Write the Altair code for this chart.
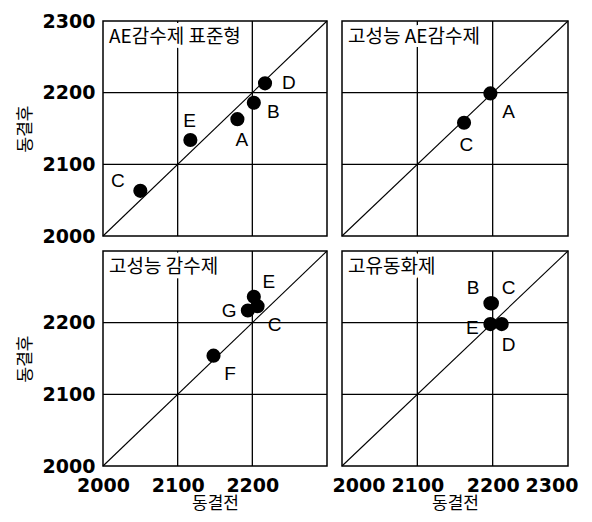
import altair as alt
import pandas as pd

# ---- data ----
panel_titles = ["AE감수제  표준형", "고성능 AE감수제", "고성능 감수제", "고유동화제"]

p1_labels = ["C", "E", "A", "B", "D"]
p1_before = [2050, 2117, 2180, 2202, 2217]
p1_after = [2063, 2134, 2163, 2186, 2213]
p1_lx = [2020, 2116, 2186, 2228, 2249]
p1_ly = [2077, 2160, 2134, 2173, 2214]

p2_labels = ["A", "C"]
p2_before = [2197, 2162]
p2_after = [2199, 2158]
p2_lx = [2221, 2165]
p2_ly = [2173, 2127]

p3_labels = ["E", "G", "C", "F"]
p3_before = [2202, 2194, 2207, 2148]
p3_after = [2236, 2217, 2223, 2154]
p3_lx = [2222, 2169, 2230, 2170]
p3_ly = [2257, 2216, 2197, 2128]

p4_labels = ["B", "C", "E", "D"]
p4_before = [2197, 2199, 2197, 2212]
p4_after = [2227, 2227, 2198, 2198]
p4_lx = [2174, 2221, 2173, 2221]
p4_ly = [2249, 2249, 2193, 2169]

grid_vals = [2100, 2200]
diag_vals = [2000, 2300]
domain = [2000, 2300]
title_pos = (2008, 2278)

x_title = "동결전"
y_title = "동결후"

KFONT = "Noto Sans CJK KR"
NFONT = "DejaVu Sans"
LFONT = "Liberation Sans"


def make_panel(title, labels, before, after, lx, ly, xvals, yvals, w=224, h=215,
               flush=False):
    pts = pd.DataFrame({"x": before, "y": after, "label": labels, "lx": lx, "ly": ly})
    grid = pd.DataFrame({"g": grid_vals})
    diag = pd.DataFrame({"x": diag_vals, "y": diag_vals})
    tdf = pd.DataFrame({"x": [title_pos[0]], "y": [title_pos[1]], "t": [title]})

    xs = alt.Scale(domain=domain, nice=False, zero=False)
    ys = alt.Scale(domain=domain, nice=False, zero=False)

    if xvals:
        xkw = dict(values=xvals, title=x_title, grid=False, ticks=False, domain=False,
                   labelFont=NFONT, labelFontWeight="bold", labelFontSize=19,
                   labelColor="black", labelPadding=10, titleFont=KFONT,
                   titleFontSize=17, titleFontWeight="normal", titleColor="black",
                   titlePadding=0, format="d", labelOverlap=False)
        if flush:
            xkw.update(labelFlush=True, labelFlushOffset=10)
        else:
            xkw.update(labelFlush=False)
        xax = alt.Axis(**xkw)
    else:
        xax = None
    if yvals:
        yax = alt.Axis(values=yvals, title=y_title, grid=False, ticks=False, domain=False,
                       labelFont=NFONT, labelFontWeight="bold", labelFontSize=19,
                       labelColor="black", labelPadding=8, titleFont=KFONT,
                       titleFontSize=17, titleFontWeight="normal", titleColor="black",
                       titlePadding=8, format="d", labelFlush=False, labelOverlap=False)
    else:
        yax = None

    def X(f):
        return alt.X(f, type="quantitative", scale=xs, axis=xax)

    def Y(f):
        return alt.Y(f, type="quantitative", scale=ys, axis=yax)

    vgrid = alt.Chart(grid).mark_rule(color="black", strokeWidth=1.3).encode(x=X("g"))
    hgrid = alt.Chart(grid).mark_rule(color="black", strokeWidth=1.3).encode(y=Y("g"))
    diag_line = alt.Chart(diag).mark_line(color="black", strokeWidth=1.1).encode(x=X("x"), y=Y("y"))
    halo = alt.Chart(tdf).mark_text(align="left", baseline="middle", font=KFONT, fontSize=19,
                                    color="white", stroke="white", strokeWidth=8,
                                    strokeJoin="round").encode(x=X("x"), y=Y("y"), text="t:N")
    ttl = alt.Chart(tdf).mark_text(align="left", baseline="middle", font=KFONT, fontSize=19,
                                   color="black").encode(x=X("x"), y=Y("y"), text="t:N")
    dots = alt.Chart(pts).mark_point(filled=True, shape="circle", size=200, color="black",
                                     opacity=1).encode(x=X("x"), y=Y("y"))
    lbls = alt.Chart(pts).mark_text(font=LFONT, fontSize=19, color="black",
                                    baseline="middle", align="center").encode(
        x=X("lx"), y=Y("ly"), text="label:N")
    return alt.layer(vgrid, hgrid, diag_line, halo, ttl, dots, lbls).properties(width=w, height=h)


p1 = make_panel(panel_titles[0], p1_labels, p1_before, p1_after, p1_lx, p1_ly,
                None, [2000, 2100, 2200, 2300], h=215)
p2 = make_panel(panel_titles[1], p2_labels, p2_before, p2_after, p2_lx, p2_ly, None, None,
                w=226, h=215)
p3 = make_panel(panel_titles[2], p3_labels, p3_before, p3_after, p3_lx, p3_ly,
                [2000, 2100, 2200], [2000, 2100, 2200])
p4 = make_panel(panel_titles[3], p4_labels, p4_before, p4_after, p4_lx, p4_ly,
                [2000, 2100, 2200, 2300], None, w=226, flush=True)

chart = alt.concat(
    p1, p2, p3, p4,
    columns=2,
    spacing={"row": 15, "column": 15},
    bounds="flush",
).properties(
    background="white",
    padding={"left": 7, "top": 3, "right": 0, "bottom": 0},
).configure_view(stroke="black", strokeWidth=1.5)

chart.save("out.html", embed_options={"renderer": "svg", "actions": False})
